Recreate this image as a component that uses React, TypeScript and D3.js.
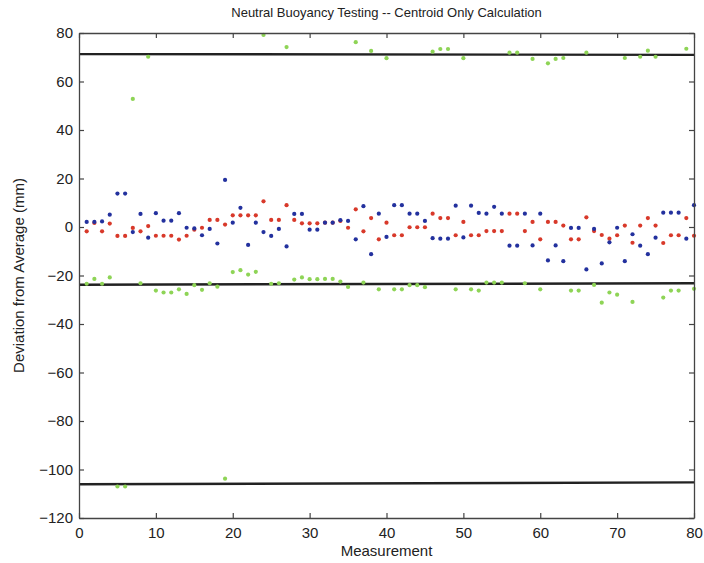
import { useEffect, useRef } from "react";
import * as d3 from "d3";

const WIDTH = 704;
const HEIGHT = 563;
const MARGIN = { top: 33, right: 10, bottom: 45, left: 79 };

// measurement index 1..80
const blueValues = [
  2.1, 2.1, 2.3, 5.1, 13.8, 13.8, -2.1, 5.4, -4.4, 5.7,
  2.6, 2.6, 5.7, -0.3, -0.6, -3.4, -0.8, -6.8, 19.4, 1.8,
  7.9, -7.4, 1.8, -2.1, -3.7, -0.8, -8.0, 5.4, 5.4, -1.1,
  -1.1, 1.8, 1.8, 2.8, 2.5, -5.1, 8.6, -11.2, 5.5, -4.1,
  9.0, 9.0, 5.5, 5.5, 2.5, -4.6, -4.8, -4.8, 8.8, -4.3,
  8.8, 5.8, 5.5, 8.3, 5.5, -7.7, -7.7, 5.5, -7.6, 5.5,
  -13.8, -7.6, -14.1, -0.4, -0.4, -17.5, -0.8, -15.0, -6.3, -0.3,
  -14.1, -3.0, -7.7, -11.2, -4.4, 5.9, 5.9, 5.9, -4.8, 9.0,
];

const redValues = [
  -1.8, 1.7, -1.8, 1.4, -3.7, -3.7, -0.4, -1.8, 0.4, -3.6,
  -3.6, -3.6, -5.2, -3.6, -1.1, -0.3, 2.9, 2.9, 1.0, 4.8,
  4.8, 4.8, 4.8, 10.6, 2.9, 2.9, 9.0, 2.9, 1.5, 1.5,
  1.5, 1.8, 1.8, 2.5, -0.3, 7.3, -1.8, 3.7, -5.1, 1.8,
  -3.4, -3.4, -0.1, -0.1, -0.1, 5.5, 3.7, 3.7, -3.4, 2.1,
  -3.4, -3.4, -1.7, -1.7, -1.7, 5.5, 5.5, -1.7, 2.1, -5.1,
  2.1, 2.1, 0.6, -5.1, -5.1, 4.0, -1.7, -3.3, -4.8, -3.4,
  0.6, -6.5, 0.6, 3.7, 0.6, -6.6, -3.4, -3.4, 3.7, -3.6,
];

const greenValues = [
  -23.4, -21.4, -23.4, -20.8, -107, -107, 52.8, -23.2, 70.2, -26.2,
  -27, -27, -25.7, -27.6, -24, -25.9, -23.2, -24.6, -103.8, -18.6,
  -17.8, -19.6, -18.5, 79.2, -23.4, -23.2, 74.2, -21.7, -20.8, -21.5,
  -21.5, -21.4, -21.4, -22.5, -24.7, 76.2, -22.9, 72.6, -25.7, 69.6,
  -25.7, -25.7, -24, -24, -24.8, 72.3, 73.4, 73.4, -25.7, 69.6,
  -25.7, -26.2, -22.9, -22.9, -22.9, 71.9, 71.9, -23.2, 69.3, -25.7,
  67.5, 69.3, 69.7, -26.2, -26.2, 71.9, -23.9, -31.2, -27, -27.9,
  69.7, -30.9, 70.2, 72.7, 70.2, -29.1, -26.2, -26.2, 73.5, -25.5,
];

// cluster average lines: [start, end] values at x=0 and x=80
const averageLines = [
  [71.3, 71.0],
  [-23.8, -23.2],
  [-106.1, -105.3],
];

const xTicks = [0, 10, 20, 30, 40, 50, 60, 70, 80];
const yTicks = [-120, -100, -80, -60, -40, -20, 0, 20, 40, 60, 80];

const FONT = "'Liberation Sans', Arial, Helvetica, sans-serif";

const App = () => {
  const axesRef = useRef<SVGGElement | null>(null);
  const boundsWidth = WIDTH - MARGIN.left - MARGIN.right;
  const boundsHeight = HEIGHT - MARGIN.top - MARGIN.bottom;

  const xScale = d3.scaleLinear().domain([0, 80]).range([0, boundsWidth]);
  const yScale = d3.scaleLinear().domain([-120, 80]).range([boundsHeight, 0]);

  useEffect(() => {
    const g = d3.select(axesRef.current);
    g.selectAll("*").remove();

    g.append("g")
      .attr("transform", `translate(0,${boundsHeight})`)
      .call(d3.axisBottom(xScale).tickValues(xTicks).tickSizeInner(-5).tickSizeOuter(0).tickPadding(9));
    g.append("g")
      .call(d3.axisTop(xScale).tickValues(xTicks).tickSizeInner(-5).tickSizeOuter(0).tickFormat(() => ""));
    g.append("g")
      .call(d3.axisLeft(yScale).tickValues(yTicks).tickSizeInner(-5).tickSizeOuter(0).tickPadding(6));
    g.append("g")
      .attr("transform", `translate(${boundsWidth},0)`)
      .call(d3.axisRight(yScale).tickValues(yTicks).tickSizeInner(-5).tickSizeOuter(0).tickFormat(() => ""));

    g.selectAll("path.domain").attr("stroke", "#444").attr("stroke-width", 1.3);
    g.selectAll(".tick line").attr("stroke", "#444").attr("stroke-width", 1.2);
    g.selectAll(".tick text")
      .attr("font-family", FONT)
      .attr("font-size", 15)
      .attr("fill", "#222");
  }, []);

  const dots = (values: number[], color: string) =>
    values.map((v, i) => (
      <circle key={i} cx={xScale(i + 1)} cy={yScale(v)} r={2.1} fill={color} />
    ));

  return (
    <svg width={WIDTH} height={HEIGHT} style={{ position: "absolute", left: 0, top: 0, background: "#fff" }}>
      <text x={MARGIN.left + boundsWidth / 2} y={17} textAnchor="middle" fontFamily={FONT} fontSize={13} fill="#222">
        Neutral Buoyancy Testing -- Centroid Only Calculation
      </text>
      <g transform={`translate(${MARGIN.left},${MARGIN.top})`}>
        {averageLines.map(([a, b], i) => (
          <line key={i} x1={xScale(0)} x2={xScale(80)} y1={yScale(a)} y2={yScale(b)} stroke="#222" strokeWidth={2.4} />
        ))}
        {dots(greenValues, "#8ed456")}
        {dots(redValues, "#d8392a")}
        {dots(blueValues, "#23319e")}
      </g>
      <g ref={axesRef} transform={`translate(${MARGIN.left},${MARGIN.top})`} />
      <text x={MARGIN.left + boundsWidth / 2} y={556} textAnchor="middle" fontFamily={FONT} fontSize={15} fill="#222">
        Measurement
      </text>
      <text
        transform={`translate(24,${MARGIN.top + boundsHeight / 2}) rotate(-90)`}
        textAnchor="middle"
        fontFamily={FONT}
        fontSize={15}
        fill="#222"
      >
        Deviation from Average (mm)
      </text>
    </svg>
  );
};

export default App;
